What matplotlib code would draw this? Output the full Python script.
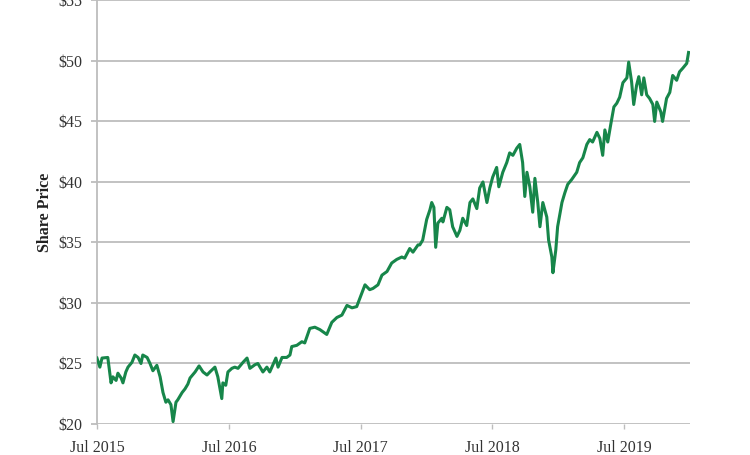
import numpy as np
import pandas as pd
import matplotlib
matplotlib.use("Agg")
import matplotlib.pyplot as plt
import matplotlib.dates as mdates
from matplotlib.ticker import FuncFormatter

# share price
dates = [
    "2015-07-01", "2015-07-09", "2015-07-15", "2015-07-31", "2015-08-09", "2015-08-14",
    "2015-08-23", "2015-08-28", "2015-09-06", "2015-09-11", "2015-09-19", "2015-09-25",
    "2015-10-06", "2015-10-14", "2015-10-23", "2015-10-31", "2015-11-05", "2015-11-17",
    "2015-11-25", "2015-12-03", "2015-12-14", "2015-12-23", "2015-12-31", "2016-01-08",
    "2016-01-14", "2016-01-22", "2016-01-28", "2016-02-05", "2016-02-10", "2016-02-22",
    "2016-03-01", "2016-03-09",
    "2016-03-15", "2016-03-29", "2016-04-09", "2016-04-20", "2016-05-01", "2016-05-09",
    "2016-05-23", "2016-05-31", "2016-06-11", "2016-06-14", "2016-06-22", "2016-06-28",
    "2016-07-09", "2016-07-17", "2016-07-26", "2016-08-09", "2016-08-20", "2016-08-28",
    "2016-09-11", "2016-09-19", "2016-09-27", "2016-10-03", "2016-10-14", "2016-10-22",
    "2016-10-31", "2016-11-08", "2016-11-14", "2016-11-25", "2016-12-08", "2016-12-17",
    "2016-12-22", "2017-01-05",
    "2017-01-19", "2017-01-27", "2017-02-10", "2017-02-24", "2017-03-10", "2017-03-29",
    "2017-04-12", "2017-04-26", "2017-05-10", "2017-05-24", "2017-06-07", "2017-06-20",
    "2017-06-29", "2017-07-13", "2017-07-26", "2017-08-04", "2017-08-18", "2017-08-29",
    "2017-09-12", "2017-09-25", "2017-10-09", "2017-10-23", "2017-10-31", "2017-11-14",
    "2017-11-23", "2017-12-07", "2017-12-12", "2017-12-20", "2017-12-31", "2018-01-09",
    "2018-01-14", "2018-01-20", "2018-01-25", "2018-01-31", "2018-02-11", "2018-02-14",
    "2018-02-25", "2018-03-05", "2018-03-13", "2018-03-25", "2018-04-02", "2018-04-10",
    "2018-04-21", "2018-04-30", "2018-05-08", "2018-05-19", "2018-05-27", "2018-06-05",
    "2018-06-16", "2018-06-24", "2018-07-02", "2018-07-13", "2018-07-19", "2018-07-30",
    "2018-08-10", "2018-08-18", "2018-08-27", "2018-09-07", "2018-09-15", "2018-09-23",
    "2018-09-29", "2018-10-05", "2018-10-13", "2018-10-21", "2018-10-27", "2018-11-04",
    "2018-11-10", "2018-11-18", "2018-11-29", "2018-12-04", "2018-12-13", "2018-12-16",
    "2018-12-24", "2018-12-29", "2019-01-10", "2019-01-18", "2019-01-26", "2019-02-06",
    "2019-02-20", "2019-02-28", "2019-03-09", "2019-03-20", "2019-03-28", "2019-04-05",
    "2019-04-17", "2019-04-25", "2019-05-03", "2019-05-09", "2019-05-17", "2019-05-25",
    "2019-06-03", "2019-06-11", "2019-06-19", "2019-06-28", "2019-07-09", "2019-07-14",
    "2019-07-22", "2019-07-28", "2019-08-05", "2019-08-11", "2019-08-19", "2019-08-25",
    "2019-09-02", "2019-09-10", "2019-09-19", "2019-09-24", "2019-09-30", "2019-10-11",
    "2019-10-16", "2019-10-27", "2019-11-05", "2019-11-13", "2019-11-24", "2019-12-02",
    "2019-12-11", "2019-12-22", "2019-12-27",
]
price = [
    25.45, 24.7, 25.45, 25.5, 23.4, 23.9,
    23.6, 24.2, 23.8, 23.4, 24.3, 24.7,
    25.1, 25.7, 25.5, 25.0, 25.7, 25.5,
    25.0, 24.4, 24.85, 23.9, 22.6, 21.8,
    22.0, 21.6, 20.2, 21.8, 22.0, 22.6,
    22.9, 23.3,
    23.8, 24.3, 24.8, 24.3, 24.05, 24.3,
    24.7, 23.9, 22.1, 23.4, 23.2, 24.3,
    24.6, 24.7, 24.6, 25.1, 25.45, 24.6,
    24.9, 25.0, 24.6, 24.3, 24.7, 24.3,
    24.9, 25.45, 24.7, 25.5, 25.5, 25.7,
    26.4, 26.5,
    26.8, 26.7, 27.9, 28.0, 27.8, 27.4,
    28.4, 28.8, 29.0, 29.8, 29.6, 29.7,
    30.4, 31.5, 31.1, 31.2, 31.5, 32.3,
    32.6, 33.3, 33.6, 33.8, 33.7, 34.5,
    34.2, 34.8, 34.8, 35.2, 36.9, 37.7,
    38.3, 37.9, 34.6, 36.6, 37.0, 36.7,
    37.9, 37.7, 36.3, 35.5, 36.0, 37.0,
    36.4, 38.3, 38.6, 37.8, 39.5, 40.0,
    38.3, 39.5, 40.4, 41.2, 39.6, 40.8,
    41.6, 42.4, 42.2, 42.8, 43.1, 41.6,
    38.8, 40.8, 39.6, 37.5, 40.3, 38.3,
    36.3, 38.3, 37.1, 35.2, 33.8, 32.5,
    34.4, 36.3, 38.3, 39.1, 39.8, 40.2,
    40.8, 41.6, 42.0, 43.1, 43.5, 43.3,
    44.1, 43.6, 42.2, 44.3, 43.3, 44.7,
    46.2, 46.5, 47.0, 48.2, 48.6, 49.9,
    48.3, 46.4, 48.0, 48.7, 47.2, 48.6,
    47.2, 46.9, 46.4, 45.0, 46.6, 45.8,
    45.0, 46.9, 47.4, 48.8, 48.4, 49.1,
    49.4, 49.8, 50.7,
]
tick_dates = ["2015-07-01", "2016-07-01", "2017-07-01", "2018-07-01", "2019-07-01"]
y_ticks = [20, 25, 30, 35, 40, 45, 50, 55]

d = pd.to_datetime(dates)

plt.rcParams['font.family'] = ['Liberation Serif', 'DejaVu Serif']

fig = plt.figure(figsize=(7.5, 4.55), dpi=100)
ax = fig.add_axes([0.1293, 0.0681, 0.7907, 0.931])

for v in y_ticks:
    ax.axhline(v, color="#bdbdbd", lw=1.3, zorder=1)

ax.plot(d, price, color="#17864a", lw=2.2, zorder=3, solid_joinstyle="round")

ax.set_ylim(20, 55)
ax.set_xlim(pd.Timestamp("2015-07-01"), pd.Timestamp("2019-12-31"))
ax.set_yticks(y_ticks)
ax.yaxis.set_major_formatter(FuncFormatter(lambda v, p: "$%d" % v))
ax.set_xticks(pd.to_datetime(tick_dates))
ax.xaxis.set_major_formatter(mdates.DateFormatter("Jul %Y"))

for s in ["top", "right", "bottom"]:
    ax.spines[s].set_visible(False)
ax.spines["left"].set_color("#bdbdbd")
ax.spines["left"].set_linewidth(1.3)

ax.tick_params(axis="y", length=4.5, width=1.3, color="#bdbdbd", pad=6,
               labelsize=11.5, labelcolor="#333333")
ax.tick_params(axis="x", length=3.5, width=1.0, color="#bdbdbd", pad=8,
               labelsize=11.5, labelcolor="#333333")

ax.set_ylabel("Share Price", fontsize=11.5, fontweight="bold", color="#222222", labelpad=4)

fig.savefig("out.png", dpi=100)
